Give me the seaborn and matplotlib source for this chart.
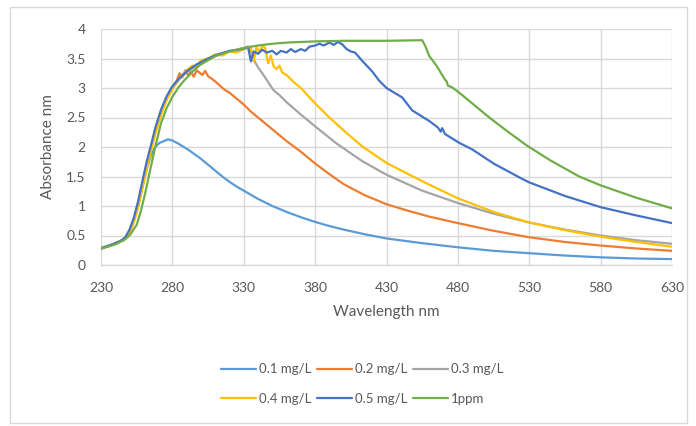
import numpy as np
import pandas as pd
import matplotlib
matplotlib.use("Agg")
import matplotlib.pyplot as plt
import seaborn as sns
from matplotlib.patches import Rectangle

# ---------------- data ----------------
series_names = ["0.1 mg/L", "0.2 mg/L", "0.3 mg/L", "0.4 mg/L", "0.5 mg/L", "1ppm"]
series_colors = ["#5B9BD5", "#ED7D31", "#A5A5A5", "#FFC000", "#4472C4", "#70AD47"]

wl_01 = [230, 235, 240, 244, 247, 250, 253, 256, 259, 262, 265, 268, 271, 274, 277, 280, 284, 288, 292, 296,
         300, 305, 310, 315, 320, 325, 330, 340, 350, 360, 370, 380, 390, 400, 415, 430, 455, 480, 505, 530,
         555, 580, 605, 630]
ab_01 = [0.29, 0.33, 0.36, 0.41, 0.45, 0.56, 0.75, 1.0, 1.32, 1.62, 1.86, 2.0, 2.07, 2.1, 2.13, 2.11, 2.06, 2.0, 1.94, 1.87,
         1.8, 1.7, 1.6, 1.5, 1.41, 1.33, 1.26, 1.12, 1.0, 0.9, 0.81, 0.73, 0.66, 0.6, 0.52, 0.45, 0.37, 0.3, 0.24, 0.2,
         0.16, 0.13, 0.11, 0.1]

wl_02 = [230, 235, 240, 244, 247, 250, 253, 256, 259, 262, 265, 268, 272, 276, 280, 283, 285, 287, 289, 291,
         293, 295, 297, 299, 301, 303, 305, 308, 312, 316, 320, 325, 330, 335, 340, 345, 350, 360, 370, 380,
         390, 400, 415, 430, 445, 460, 480, 505, 530, 555, 580, 605, 630]
ab_02 = [0.28, 0.32, 0.37, 0.41, 0.46, 0.57, 0.76, 1.02, 1.35, 1.67, 1.97, 2.27, 2.58, 2.82, 3.0, 3.12, 3.25, 3.18, 3.3, 3.22,
         3.28, 3.19, 3.3, 3.26, 3.22, 3.29, 3.2, 3.15, 3.07, 2.98, 2.92, 2.82, 2.72, 2.6, 2.5, 2.4, 2.3, 2.1, 1.92, 1.72,
         1.54, 1.37, 1.18, 1.03, 0.92, 0.82, 0.71, 0.58, 0.47, 0.39, 0.33, 0.28, 0.24]

wl_03 = [230, 240, 247, 250, 253, 256, 259, 262, 265, 268, 272, 276, 280, 285, 290, 297, 305, 312, 320, 326,
         330, 333, 335, 337, 340, 343, 346, 349, 351, 355, 360, 370, 380, 395, 413, 430, 455, 480, 505, 530,
         555, 580, 605, 630]
ab_03 = [0.28, 0.36, 0.45, 0.57, 0.77, 1.03, 1.36, 1.68, 1.98, 2.28, 2.6, 2.83, 3.0, 3.15, 3.27, 3.39, 3.49, 3.56, 3.62, 3.64,
         3.66, 3.68, 3.62, 3.48, 3.35, 3.25, 3.14, 3.03, 2.96, 2.88, 2.76, 2.55, 2.35, 2.06, 1.76, 1.53, 1.26, 1.05, 0.87, 0.72,
         0.6, 0.5, 0.42, 0.36]

wl_04 = [230, 240, 247, 250, 253, 256, 259, 262, 265, 268, 272, 276, 280, 283, 286, 290, 294, 297, 300, 305,
         310, 315, 320, 325, 330, 333, 335, 337, 339, 341, 343, 345, 347, 349, 351, 353, 355, 357, 360, 365,
         370, 380, 390, 400, 413, 430, 455, 480, 505, 530, 555, 580, 605, 630]
ab_04 = [0.28, 0.36, 0.44, 0.54, 0.72, 0.98, 1.3, 1.62, 1.93, 2.22, 2.54, 2.8, 2.98, 3.1, 3.2, 3.3, 3.38, 3.35, 3.47, 3.5,
         3.57, 3.55, 3.62, 3.6, 3.66, 3.7, 3.68, 3.45, 3.7, 3.6, 3.72, 3.68, 3.42, 3.55, 3.36, 3.32, 3.38, 3.26, 3.22, 3.1,
         3.0, 2.74, 2.5, 2.28, 2.01, 1.73, 1.42, 1.13, 0.9, 0.72, 0.59, 0.48, 0.39, 0.31]

wl_05 = [230, 235, 240, 244, 247, 250, 253, 256, 259, 262, 265, 268, 272, 276, 280, 285, 290, 297, 305, 312,
         320, 326, 330, 333, 335, 337, 340, 343, 346, 350, 353, 356, 360, 363, 366, 370, 373, 376, 380, 383,
         386, 390, 393, 396, 399, 402, 405, 408, 413, 420, 425, 430, 441, 448, 460, 466, 468, 469, 471, 475,
         481, 490, 505, 525, 530, 555, 580, 605, 630]
ab_05 = [0.28, 0.32, 0.37, 0.41, 0.47, 0.6, 0.8, 1.08, 1.42, 1.75, 2.03, 2.32, 2.63, 2.86, 3.03, 3.17, 3.28, 3.4, 3.5, 3.57,
         3.63, 3.65, 3.67, 3.7, 3.45, 3.62, 3.58, 3.65, 3.6, 3.63, 3.57, 3.63, 3.6, 3.66, 3.61, 3.66, 3.63, 3.7, 3.72, 3.75,
         3.72, 3.77, 3.73, 3.78, 3.74, 3.66, 3.62, 3.6, 3.46, 3.28, 3.12, 3.0, 2.84, 2.62, 2.44, 2.33, 2.26, 2.32, 2.22, 2.16,
         2.07, 1.96, 1.72, 1.46, 1.4, 1.17, 0.98, 0.84, 0.71]

wl_1ppm = [230, 235, 240, 246, 250, 255, 258, 261, 264, 268, 272, 276, 280, 284, 288, 295, 300, 310, 320, 330,
           340, 350, 360, 380, 400, 430, 455, 457, 460, 465, 471, 472, 473, 476, 481, 490, 502, 515, 528, 545,
           565, 580, 605, 630]
ab_1ppm = [0.28, 0.31, 0.35, 0.42, 0.5, 0.68, 0.92, 1.22, 1.56, 2.0, 2.4, 2.66, 2.85, 3.0, 3.12, 3.3, 3.4, 3.54, 3.62, 3.68,
           3.72, 3.75, 3.77, 3.79, 3.8, 3.8, 3.81, 3.72, 3.54, 3.38, 3.14, 3.12, 3.04, 3.01, 2.92, 2.74, 2.5, 2.26, 2.03, 1.77,
           1.5, 1.35, 1.14, 0.96]

x_ticks = [230, 280, 330, 380, 430, 480, 530, 580, 630]
y_ticks = [0, 0.5, 1, 1.5, 2, 2.5, 3, 3.5, 4]
y_tick_labels = ["0", "0.5", "1", "1.5", "2", "2.5", "3", "3.5", "4"]
x_label = "Wavelength nm"
y_label = "Absorbance nm"

# ---------------- build table ----------------
all_wl = [wl_01, wl_02, wl_03, wl_04, wl_05, wl_1ppm]
all_ab = [ab_01, ab_02, ab_03, ab_04, ab_05, ab_1ppm]
frames = []
for name, w, a in zip(series_names, all_wl, all_ab):
    frames.append(pd.DataFrame({"Wavelength": w, "Absorbance": a, "Series": name}))
df = pd.concat(frames, ignore_index=True)

# ---------------- plot ----------------
sns.set_theme(style="white")
plt.rcParams["font.family"] = ["Lato", "DejaVu Sans"]
text_color = "#595959"
grid_color = "#D9D9D9"

fig = plt.figure(figsize=(6.96, 4.26), dpi=100)
ax = fig.add_axes([101 / 696, 1 - 265 / 426, (672 - 101) / 696, (265 - 29) / 426])

sns.lineplot(data=df, x="Wavelength", y="Absorbance", hue="Series",
             hue_order=series_names, palette=series_colors,
             estimator=None, sort=False, linewidth=1.6, ax=ax)

handles, labels = ax.get_legend_handles_labels()
if ax.get_legend() is not None:
    ax.get_legend().remove()

ax.set_xlim(230, 630)
ax.set_ylim(0, 4)
ax.set_xticks(x_ticks)
ax.set_yticks(y_ticks)
ax.set_yticklabels(y_tick_labels)
ax.grid(True, color=grid_color, linewidth=1.0)
ax.set_axisbelow(True)
for s in ["top", "right", "left"]:
    ax.spines[s].set_visible(False)
ax.spines["bottom"].set_color(grid_color)
ax.spines["bottom"].set_linewidth(1.0)
ax.tick_params(axis="both", length=0, labelsize=10, colors=text_color)
ax.tick_params(axis="x", pad=12)
ax.tick_params(axis="y", pad=11)
ax.set_xlabel(x_label, fontsize=11, color=text_color, labelpad=8)
ax.set_ylabel(y_label, fontsize=11, color=text_color, labelpad=8)

# row-wise legend order (matplotlib fills columns first)
order = [0, 3, 1, 4, 2, 5]
fig.legend([handles[i] for i in order], [labels[i] for i in order],
           loc="center", bbox_to_anchor=(362 / 696, 1 - 384 / 426),
           ncol=3, frameon=False, fontsize=9.5, handlelength=2.7, handletextpad=0.2,
           columnspacing=0.4, labelspacing=1.3, labelcolor=text_color)

fig.patches.append(Rectangle((10 / 696, 1 - 423 / 426), (687 - 10) / 696, (423 - 7) / 426,
                             transform=fig.transFigure, fill=False, edgecolor=grid_color,
                             linewidth=1.0, zorder=-1))

fig.savefig("out.png", dpi=100, facecolor="white")
